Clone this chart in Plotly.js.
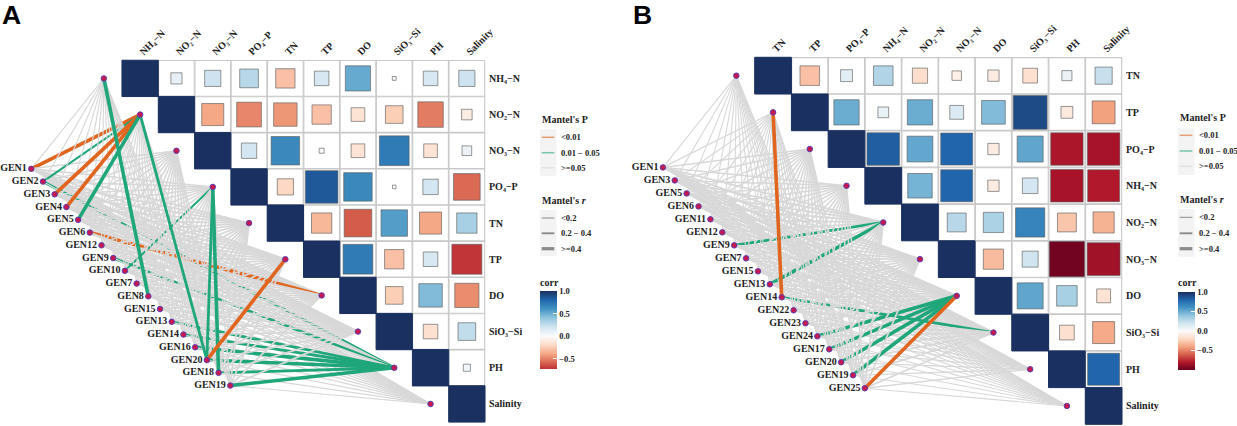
<!DOCTYPE html>
<html>
<head>
<meta charset="utf-8">
<script src="https://cdn.plot.ly/plotly-3.0.1.min.js"></script>
<style>html,body{margin:0;padding:0;background:#fff}#chart{width:1237px;height:426px}</style>
</head>
<body>
<div id="chart"></div>
<script>
// ---------- DATA ----------
const envKeysA = ['NH4','NO2','NO3','PO4','TN','TP','DO','SiO3','PH','Sal'];
const envKeysB = ['TN','TP','PO4','NH4','NO2','NO3','DO','SiO3','PH','Sal'];
const envLabels = {
  NH4:'NH₄−N', NO2:'NO₂−N', NO3:'NO₃−N', PO4:'PO₄−P',
  TN:'TN', TP:'TP', DO:'DO', SiO3:'SiO₃−Si', PH:'PH', Sal:'Salinity'
};
const genesA = ['GEN1','GEN2','GEN3','GEN4','GEN5','GEN6','GEN12','GEN9','GEN10','GEN7','GEN8','GEN15','GEN13','GEN14','GEN16','GEN20','GEN18','GEN19'];
const genesB = ['GEN1','GEN3','GEN5','GEN6','GEN11','GEN12','GEN9','GEN7','GEN15','GEN13','GEN14','GEN22','GEN23','GEN24','GEN17','GEN20','GEN19','GEN25'];

// upper triangle of the correlation matrix, row by row (diagonal excluded)
const corrA = [
  [0.10,0.21,0.28,-0.30,0.17,0.51,0.012,0.17,0.21],
  [-0.39,-0.49,-0.44,-0.30,-0.15,-0.25,-0.52,-0.09],
  [0.19,0.65,-0.02,-0.15,0.71,-0.15,0.075],
  [-0.21,0.85,0.65,0.01,0.19,-0.57],
  [-0.33,-0.61,0.56,-0.39,0.33],
  [0.71,-0.30,0.17,-0.72],
  [-0.25,0.44,-0.47],
  [-0.17,0.25],
  [0.04]
];
const corrB = [
  [-0.30,0.11,0.30,-0.18,-0.07,-0.10,-0.17,0.08,0.23],
  [0.50,0.09,0.50,0.15,0.44,0.90,-0.11,-0.41],
  [0.83,0.52,0.80,-0.10,0.53,-0.82,-0.83],
  [0.47,0.80,-0.10,0.19,-0.83,-0.80],
  [0.28,0.32,0.67,-0.28,-0.35],
  [-0.32,0.20,-0.97,-0.85],
  [0.53,0.33,-0.15],
  [-0.17,-0.38],
  [0.80]
];

// significant Mantel links: gene, environment factor, P class, r class, drawn over the grey web?
const linksA = [
  ['GEN1','NO2','p1','r3',false],['GEN2','NO2','p2','r1',false],['GEN3','NO2','p1','r3',true],
  ['GEN4','NO2','p1','r3',true],['GEN5','NO2','p2','r3',true],['GEN8','NH4','p2','r3',true],
  ['GEN20','NO2','p2','r2',true],['GEN18','PO4','p2','r3',true],['GEN20','PO4','p2','r2',true],
  ['GEN10','PO4','p2','r1',false],['GEN2','PH','p2','r2',false],['GEN6','DO','p1','r3',false],
  ['GEN9','PH','p2','r2',false],['GEN13','PH','p2','r2',false],['GEN14','PH','p2','r2',false],
  ['GEN16','PH','p2','r3',false],['GEN20','PH','p2','r3',false],['GEN18','PH','p2','r2',false],
  ['GEN19','PH','p2','r3',true],['GEN20','TP','p1','r3',true]
];
const linksB = [
  ['GEN14','TP','p1','r3',true],['GEN9','NO2','p2','r2',false],['GEN13','NO2','p2','r3',false],
  ['GEN14','SiO3','p2','r2',false],['GEN24','DO','p2','r3',false],['GEN17','DO','p2','r3',false],
  ['GEN20','DO','p2','r3',false],['GEN19','DO','p2','r3',false],['GEN25','DO','p1','r3',true]
];
// typical Mantel's r of the non-significant links of each factor
const webRA = [0.08,0.10,0.22,0.22,0.29,0.29,0.29,0.29,0.10,0.10];
const webRB = [0.07,0.10,0.20,0.20,0.29,0.29,0.29,0.29,0.13,0.07];

const pClasses = ['<0.01','0.01 − 0.05','>=0.05'];
const rClasses = ['<0.2','0.2 − 0.4','>=0.4'];
const corrTicks = [1,0.5,0,-0.5];
const corrTickText = ['1.0','0.5','0.0','−0.5'];
const brewerStops = [[-1,'#67001F'],[-0.8,'#B2182B'],[-0.6,'#D6604D'],[-0.4,'#F4A582'],[-0.2,'#FDDBC7'],
  [0,'#FBFBFB'],[0.2,'#D1E5F0'],[0.4,'#92C5DE'],[0.6,'#4393C3'],[0.8,'#2166AC'],[1,'#1A3060']];

// ---------- STYLE ----------
const W = 1237, H = 426;
const serif = 'Liberation Serif';
const ink = '#222222';
const pColor = {p1:'#E0651F', p2:'#1FA67A'};
const rWidth = {r1:2.0, r2:2.8, r3:3.6};
const webColor = '#D8D8D8';
const fx = v => v / W;
const fy = v => 1 - v / H;

function hexRgb(h){ return [1,3,5].map(i=>parseInt(h.substr(i,2),16)); }
function colorAt(v){
  for(let i=1;i<brewerStops.length;i++){
    if(v<=brewerStops[i][0]){
      const a=brewerStops[i-1], b=brewerStops[i], t=(v-a[0])/(b[0]-a[0]);
      const ca=hexRgb(a[1]), cb=hexRgb(b[1]);
      return 'rgb('+ca.map((c,k)=>Math.round(c+(cb[k]-c)*t)).join(',')+')';
    }
  }
  return brewerStops[brewerStops.length-1][1];
}
function colorscaleFor(cmin){
  const out = [[0, colorAt(cmin)]];
  brewerStops.filter(s => s[0] > cmin).forEach(s => out.push([(s[0]-cmin)/(1-cmin), s[1]]));
  return out;
}

const traces = [];
const layout = {
  width:W, height:H, autosize:false, margin:{l:0,r:0,t:0,b:0,pad:0},
  paper_bgcolor:'#fff', plot_bgcolor:'rgba(0,0,0,0)', showlegend:false, hovermode:false,
  shapes:[], annotations:[]
};

function note(x,y,text,size,anchor,family){
  layout.annotations.push({xref:'paper',yref:'paper',x:fx(x),y:fy(y),text:text,showarrow:false,
    xanchor:anchor||'left',yanchor:'middle',align:'left',borderpad:0,
    font:{family:family||serif,size:size,color:family?'#000':ink,weight:700}});
}

function buildPanel(o){
  const n = o.envs.length;
  const s = o.cell;
  const cx0 = o.left + s/2, cy0 = o.top + s/2;
  const wide = o.n===1 ? '' : '3', grid = o.n===1 ? '2' : '4';
  layout['xaxis'+wide] = {domain:[fx(o.canvasLeft),fx(o.right)],
    range:[(o.canvasLeft-cx0)/s, n-0.5],visible:false,fixedrange:true,anchor:'y'+wide};
  layout['yaxis'+wide] = {domain:[fy(o.bottom),1],
    range:[n-0.5,-cy0/o.cellY],visible:false,fixedrange:true,anchor:'x'+wide};
  layout['xaxis'+grid] = {domain:[fx(o.left),fx(o.right)],range:[-0.5,n-0.5],side:'top',anchor:'y'+grid,
    tickmode:'array',tickvals:o.envs.map((_,i)=>i),ticktext:o.envs.map(k=>envLabels[k]),tickangle:-45,
    showgrid:false,zeroline:false,showline:false,ticks:'',fixedrange:true,
    tickfont:{family:serif,size:10,color:ink,weight:700}};
  layout['yaxis'+grid] = {domain:[fy(o.bottom),fy(o.top)],range:[n-0.5,-0.5],side:'right',anchor:'x'+grid,
    tickmode:'array',tickvals:o.envs.map((_,i)=>i),ticktext:o.envs.map(k=>envLabels[k]),ticklabelstandoff:3,
    showgrid:false,zeroline:false,showline:false,ticks:'',fixedrange:true,
    tickfont:{family:serif,size:10,color:ink,weight:700}};
  const xy = {xaxis:'x'+wide, yaxis:'y'+wide};
  const gr = {xaxis:'x'+grid, yaxis:'y'+grid};

  const envPos = {}; o.envs.forEach((k,i)=>envPos[k]=[i-1,i]);
  const genePos = {}; o.genes.forEach((g,i)=>genePos[g]=[-3+i*o.stepX, 2.5+i*o.stepY]);
  const sig = {}; o.links.forEach(l=>sig[l[0]+'|'+l[1]]=l);

  // links are drawn gene by gene, so later genes pass over earlier ones
  let run = null;
  o.genes.forEach(g=>o.envs.forEach((e,ei)=>{
    const l = sig[g+'|'+e];
    if(l && l[4]) return;
    const color = l ? pColor[l[2]] : webColor;
    const width = l ? rWidth[l[3]] : 0.9+3*o.webR[ei];
    if(!run || run.line.color!==color || run.line.width!==width){
      run = Object.assign({type:'scatter',mode:'lines',x:[],y:[],line:{color:color,width:width},hoverinfo:'skip'},xy);
      traces.push(run);
    }
    run.x.push(genePos[g][0],envPos[e][0],null);
    run.y.push(genePos[g][1],envPos[e][1],null);
  }));
  o.links.filter(l=>l[4]).forEach(l=>{
    traces.push(Object.assign({type:'scatter',mode:'lines',
      x:[genePos[l[0]][0],envPos[l[1]][0]],y:[genePos[l[0]][1],envPos[l[1]][1]],
      line:{color:pColor[l[2]],width:rWidth[l[3]]},hoverinfo:'skip'},xy));
  });

  traces.push(Object.assign({type:'scatter',mode:'markers',x:o.envs.map(k=>envPos[k][0]),y:o.envs.map(k=>envPos[k][1]),
    marker:{size:5.5,color:'#C9184F',opacity:1,line:{color:'#5B3FB0',width:1}},hoverinfo:'skip',cliponaxis:false},xy));
  traces.push(Object.assign({type:'scatter',mode:'markers+text',x:o.genes.map(g=>genePos[g][0]),y:o.genes.map(g=>genePos[g][1]),
    text:o.genes,textposition:'middle left',textfont:{family:serif,size:10,color:ink,weight:700},
    marker:{size:5.5,color:'#C9184F',opacity:1,line:{color:'#5B3FB0',width:1}},hoverinfo:'skip',cliponaxis:false},xy));

  const cellX=[],cellY=[],valX=[],valY=[],vals=[];
  o.corr.forEach((row,i)=>{
    cellX.push(i);cellY.push(i);valX.push(i);valY.push(i);vals.push(1);
    row.forEach((r,k)=>{
      const j=i+1+k; cellX.push(j);cellY.push(i);valX.push(j);valY.push(i);vals.push(r);
    });
  });
  cellX.push(n-1);cellY.push(n-1);valX.push(n-1);valY.push(n-1);vals.push(1);
  traces.push(Object.assign({type:'scatter',mode:'markers',x:cellX,y:cellY,
    marker:{symbol:'square',size:s-0.6,color:'#FFFFFF',opacity:1,line:{color:'#C9C9C9',width:1.1}},hoverinfo:'skip',cliponaxis:false},gr));
  traces.push(Object.assign({type:'scatter',mode:'markers',x:valX,y:valY,hoverinfo:'skip',cliponaxis:false,
    marker:{symbol:'square',opacity:1,size:vals.map(v=>v===1?s:Math.max(2.5,(s-1)*Math.sqrt(Math.abs(v)))),
      color:vals,cmin:o.cmin,cmax:1,colorscale:colorscaleFor(o.cmin),
      line:{color:vals.map(v=>v===1?'rgba(26,48,96,1)':'rgba(90,90,90,0.62)'),width:1},
      colorbar:{x:fx(o.legX),xanchor:'left',xpad:0,y:fy(o.barTop-16),yanchor:'top',ypad:0,
        len:o.barH+16,lenmode:'pixels',thickness:17,thicknessmode:'pixels',outlinewidth:0,
        tickmode:'array',tickvals:corrTicks,ticktext:corrTickText,ticks:'inside',ticklen:4,tickcolor:'#fff',tickwidth:1,
        tickfont:{family:serif,size:8.5,color:ink,weight:700},
        title:{text:'corr',side:'top',font:{family:serif,size:10,color:ink,weight:700}}}
    }},gr));

  const L = o.legend;
  note(o.legX+0.7,L.pTitle,"Mantel's P",10);
  note(o.legX+0.7,L.rTitle,"Mantel's <i>r</i>",10);
  layout.shapes.push({type:'rect',xref:'paper',yref:'paper',x0:fx(o.legX),x1:fx(o.legX+16.5),y0:fy(L.pBox[0]),y1:fy(L.pBox[1]),fillcolor:'#F3F3F3',line:{width:0},layer:'below'});
  layout.shapes.push({type:'rect',xref:'paper',yref:'paper',x0:fx(o.legX),x1:fx(o.legX+16.5),y0:fy(L.rBox[0]),y1:fy(L.rBox[1]),fillcolor:'#F3F3F3',line:{width:0},layer:'below'});
  const pKey = ['rgba(224,101,31,0.6)','rgba(31,166,122,0.6)','#E2E2E2'];
  const rKey = [1,1.9,3.2];
  L.pKeys.forEach((y,i)=>{
    layout.shapes.push({type:'line',xref:'paper',yref:'paper',x0:fx(o.legX+1.7),x1:fx(o.legX+14.3),y0:fy(y),y1:fy(y),line:{color:pKey[i],width:1.5}});
    note(o.legX+20,y,pClasses[i],8.5);
  });
  L.rKeys.forEach((y,i)=>{
    layout.shapes.push({type:'line',xref:'paper',yref:'paper',x0:fx(o.legX+1.7),x1:fx(o.legX+14.3),y0:fy(y),y1:fy(y),line:{color:'#8A8A8A',width:rKey[i]}});
    note(o.legX+20,y,rClasses[i],8.5);
  });
}

buildPanel({n:1,envs:envKeysA,genes:genesA,corr:corrA,links:linksA,webR:webRA,left:122,right:485,top:60.3,bottom:422,cell:36.3,cellY:36.17,
  canvasLeft:0,stepX:0.3225,stepY:0.3525,cmin:-0.73,legX:540,barTop:291,barH:78,
  legend:{pTitle:119.7,rTitle:200.3,pBox:[129.3,176],rBox:[210,256],pKeys:[137.3,152.7,167.7],rKeys:[218,233.3,248.7]}});
buildPanel({n:2,envs:envKeysB,genes:genesB,corr:corrB,links:linksB,webR:webRB,left:754.7,right:1122,top:57.3,bottom:424.3,cell:36.73,cellY:36.7,
  canvasLeft:620,stepX:0.3235,stepY:0.354,cmin:-1,legX:1178,barTop:291.7,barH:78.3,
  legend:{pTitle:117.7,rTitle:199.3,pBox:[128.3,175],rBox:[209,256.7],pKeys:[135.3,151,166.3],rKeys:[217.3,233.3,248.7]}});

note(1,15,'A',26.5,'left','Liberation Sans');
note(632,15,'B',26.5,'left','Liberation Sans');

Plotly.newPlot('chart',traces,layout,{displayModeBar:false,responsive:false,staticPlot:true});
</script>
</body>
</html>
